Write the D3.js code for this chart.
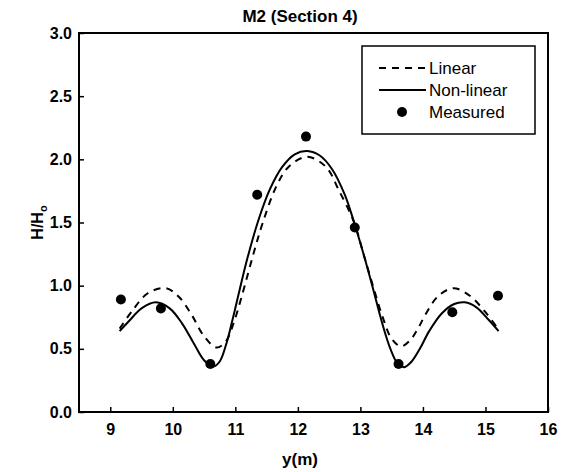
<!DOCTYPE html>
<html>
<head>
<meta charset="utf-8">
<script src="https://cdn.jsdelivr.net/npm/d3@7"></script>
<style>
  html, body { margin: 0; padding: 0; background: #fff; }
  svg { display: block; font-family: "Liberation Sans", Arial, Helvetica, sans-serif; }
</style>
</head>
<body>
<svg id="chart" width="572" height="472"></svg>
<script>
// Wave height ratio across the section (y in metres)
const linearY = [9.15, 9.35, 9.6, 9.89, 10.1, 10.3, 10.5, 10.7, 10.85, 10.97, 11.07, 11.15, 11.3, 11.44, 11.65, 11.85, 12.15, 12.45, 12.65, 12.9, 13.05, 13.2, 13.35, 13.5, 13.65, 13.8, 13.92, 14.05, 14.25, 14.49, 14.75, 15.0, 15.2];
const linearH = [0.66, 0.80, 0.94, 0.98, 0.91, 0.77, 0.60, 0.51, 0.56, 0.70, 0.86, 1.00, 1.27, 1.50, 1.78, 1.94, 2.02, 1.94, 1.76, 1.50, 1.25, 1.00, 0.76, 0.58, 0.52, 0.57, 0.66, 0.78, 0.92, 0.98, 0.92, 0.79, 0.66];

const nonlinearY = [9.15, 9.3, 9.5, 9.73, 9.95, 10.15, 10.35, 10.5, 10.65, 10.75, 10.85, 10.95, 11.07, 11.2, 11.37, 11.55, 11.75, 11.95, 12.15, 12.35, 12.55, 12.75, 12.9, 13.05, 13.2, 13.35, 13.48, 13.6, 13.7, 13.82, 13.95, 14.1, 14.3, 14.5, 14.67, 14.85, 15.05, 15.21];
const nonlinearH = [0.64, 0.72, 0.82, 0.868, 0.82, 0.70, 0.53, 0.41, 0.36, 0.40, 0.53, 0.72, 0.97, 1.23, 1.52, 1.76, 1.94, 2.04, 2.066, 2.03, 1.92, 1.72, 1.50, 1.25, 0.98, 0.70, 0.50, 0.38, 0.355, 0.40, 0.50, 0.64, 0.78, 0.855, 0.868, 0.83, 0.73, 0.64];

const measuredY = [9.17, 9.81, 10.6, 11.35, 12.13, 12.91, 13.61, 14.47, 15.2];
const measuredH = [0.89, 0.82, 0.38, 1.72, 2.18, 1.46, 0.38, 0.79, 0.92];

const xTickValues = [9, 10, 11, 12, 13, 14, 15, 16];
const yTickValues = [0, 0.5, 1.0, 1.5, 2.0, 2.5, 3.0];

const titleText = "M2 (Section 4)";
const xTitle = "y(m)";
const legendLabels = ["Linear", "Non-linear", "Measured"];

const svg = d3.select("#chart");
const plot = { left: 79, right: 548, top: 33, bottom: 412 };

const x = d3.scaleLinear().domain([8.5, 16]).range([plot.left, plot.right]);
const y = d3.scaleLinear().domain([0, 3]).range([plot.bottom, plot.top]);

// Title
svg.append("text")
  .attr("x", 300).attr("y", 22)
  .attr("text-anchor", "middle")
  .attr("font-size", 17).attr("font-weight", "bold")
  .text(titleText);

// Axes with inward ticks
const xAxis = d3.axisBottom(x).tickValues(xTickValues).tickFormat(d3.format("d"))
  .tickSizeInner(-5).tickSizeOuter(0).tickPadding(12);
const yAxis = d3.axisLeft(y).tickValues(yTickValues).tickFormat(d3.format(".1f"))
  .tickSizeInner(-5).tickSizeOuter(0).tickPadding(7);

const gx = svg.append("g").attr("transform", `translate(0,${plot.bottom})`).call(xAxis);
const gy = svg.append("g").attr("transform", `translate(${plot.left},0)`).call(yAxis);
[gx, gy].forEach(g => {
  g.select(".domain").remove();
  g.selectAll(".tick line").attr("stroke", "#000").attr("stroke-width", 1.5);
  g.selectAll(".tick text").attr("fill", "#000")
    .attr("font-size", 16).attr("font-weight", "bold")
    .attr("font-family", "'Liberation Sans', Arial, sans-serif");
});

// Frame
svg.append("rect")
  .attr("x", plot.left).attr("y", plot.top)
  .attr("width", plot.right - plot.left).attr("height", plot.bottom - plot.top)
  .attr("fill", "none").attr("stroke", "#000").attr("stroke-width", 2);

// Axis titles
svg.append("text")
  .attr("x", 300).attr("y", 465)
  .attr("text-anchor", "middle")
  .attr("font-size", 17).attr("font-weight", "bold")
  .text(xTitle);

const yt = svg.append("text")
  .attr("transform", `translate(43,${(plot.top + plot.bottom) / 2}) rotate(-90)`)
  .attr("text-anchor", "middle")
  .attr("font-size", 16).attr("font-weight", "bold");
yt.append("tspan").text("H/H");
yt.append("tspan").attr("font-size", 11).attr("dy", 4).text("o");

// Curves
const line = d3.line()
  .x(d => x(d[0])).y(d => y(d[1]))
  .curve(d3.curveCatmullRom.alpha(0.5));

svg.append("path")
  .datum(d3.zip(linearY, linearH))
  .attr("d", line)
  .attr("fill", "none").attr("stroke", "#000").attr("stroke-width", 2)
  .attr("stroke-dasharray", "7,6");

svg.append("path")
  .datum(d3.zip(nonlinearY, nonlinearH))
  .attr("d", line)
  .attr("fill", "none").attr("stroke", "#000").attr("stroke-width", 2);

// Measured points
svg.append("g").selectAll("circle")
  .data(d3.zip(measuredY, measuredH))
  .join("circle")
  .attr("cx", d => x(d[0])).attr("cy", d => y(d[1]))
  .attr("r", 5).attr("fill", "#000");

// Legend
const lg = svg.append("g");
lg.append("rect")
  .attr("x", 362).attr("y", 46).attr("width", 173).attr("height", 88)
  .attr("fill", "#fff").attr("stroke", "#000").attr("stroke-width", 1.5);

const rowY = [68, 90, 112];
lg.append("line").attr("x1", 379).attr("x2", 426).attr("y1", rowY[0]).attr("y2", rowY[0])
  .attr("stroke", "#000").attr("stroke-width", 2).attr("stroke-dasharray", "7,6");
lg.append("line").attr("x1", 379).attr("x2", 426).attr("y1", rowY[1]).attr("y2", rowY[1])
  .attr("stroke", "#000").attr("stroke-width", 2);
lg.append("circle").attr("cx", 402).attr("cy", rowY[2]).attr("r", 5).attr("fill", "#000");

lg.selectAll("text.lab")
  .data(legendLabels)
  .join("text")
  .attr("class", "lab")
  .attr("x", 429).attr("y", (d, i) => rowY[i])
  .attr("dy", "0.35em")
  .attr("font-size", 17)
  .text(d => d);
</script>
</body>
</html>
